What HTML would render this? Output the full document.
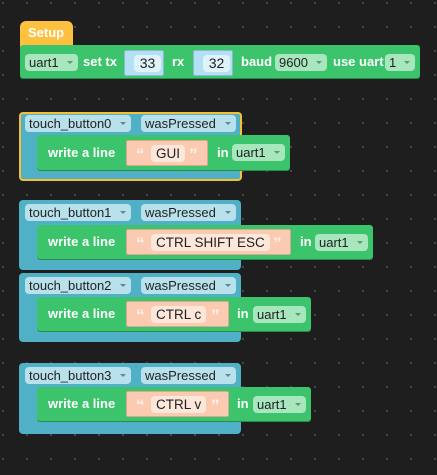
<!DOCTYPE html>
<html><head><meta charset="utf-8"><style>
*{margin:0;padding:0;box-sizing:border-box}
body{width:437px;height:475px;overflow:hidden;background-color:#1e1e1e;
background-image:radial-gradient(circle,#555 0.8px,transparent 1px);background-size:24px 24px;background-position:-9px -9px;
font-family:"Liberation Sans",Arial,sans-serif;position:relative}
.a{position:absolute}
.g{background:#3bc46b;border-radius:3px}
.b{background:#4fb0c6;border-radius:4px}
.lbl{position:absolute;color:#fff;font-weight:bold;font-size:13px;line-height:16px}
.dd{position:absolute;height:17px;border-radius:4px;font-size:13px;line-height:17px;color:#222;padding-left:4px;white-space:nowrap}
.dd::after{content:"";position:absolute;right:5px;top:7px;border-left:3px solid transparent;border-right:3px solid transparent;border-top:3px solid #5a8a9a}
.gd{background:#a8e6bd}
.gd::after{border-top-color:#5a9a6a}
.bd{background:#b9e1ec}
.val{position:absolute;background:#b3e0f5;border:1px solid #8cb9cc;height:26px;border-radius:2px}
.val span{position:absolute;top:4px;height:17px;width:27px;background:#dff3fb;border-radius:4px;font-size:14px;line-height:17px;text-align:center;color:#222}
.str{position:absolute;background:#fbcbb1;border:1px solid #d8a890;height:26px;border-radius:2px}
.str .q{position:absolute;top:5px;color:#fff3ec;font-weight:bold;font-size:17px;line-height:17px}
.str .f{position:absolute;left:24px;top:4px;height:17px;background:#fde6da;border-radius:4px;font-size:13.5px;line-height:17px;padding:0 5px;color:#222;white-space:nowrap}
.shadow{box-shadow:0 1px 0 #2a8c4c}
</style></head><body>
<div class="a" style="left:20px;top:21px;width:53px;height:28px;background:#fdc13f;border-radius:6px 6px 0 0"></div>
<div class="lbl" style="left:28px;top:25px">Setup</div>
<div class="a g shadow" style="left:20px;top:45px;width:400px;height:33px"></div>
<div class="dd gd" style="left:25px;top:54px;width:53px">uart1</div>
<div class="lbl" style="left:83px;top:54px">set tx</div>
<div class="val" style="left:124px;top:50px;width:40px"><span style="left:9px">33</span></div>
<div class="lbl" style="left:172px;top:54px">rx</div>
<div class="val" style="left:193px;top:50px;width:40px"><span style="left:9px">32</span></div>
<div class="lbl" style="left:241px;top:54px">baud</div>
<div class="dd gd" style="left:275px;top:54px;width:52px">9600</div>
<div class="lbl" style="left:333px;top:54px">use uart</div>
<div class="dd gd" style="left:385px;top:54px;width:30px">1</div>

<div class="a b" style="left:19px;top:112px;width:223px;height:69px;border:2px solid #f5c033"></div>
<div class="dd bd" style="left:25px;top:115px;width:106px">touch_button0</div>
<div class="dd bd" style="left:141px;top:115px;width:95px">wasPressed</div>
<div class="a g shadow" style="left:37px;top:135px;width:253px;height:35px"></div>
<div class="lbl" style="left:48px;top:145px">write a line</div>
<div class="str" style="left:126px;top:140px;width:82px"><b class="q" style="left:9px">“</b><span class="f">GUI</span><b class="q" style="left:62px">”</b></div>
<div class="lbl" style="left:217px;top:145px">in</div>
<div class="dd gd" style="left:232px;top:144px;width:53px">uart1</div>

<div class="a b" style="left:19px;top:200px;width:222px;height:70px"></div>
<div class="dd bd" style="left:25px;top:204px;width:106px">touch_button1</div>
<div class="dd bd" style="left:141px;top:204px;width:95px">wasPressed</div>
<div class="a g shadow" style="left:37px;top:225px;width:336px;height:34px"></div>
<div class="lbl" style="left:48px;top:234px">write a line</div>
<div class="str" style="left:126px;top:229px;width:165px"><b class="q" style="left:9px">“</b><span class="f">CTRL SHIFT ESC</span><b class="q" style="left:146px">”</b></div>
<div class="lbl" style="left:300px;top:234px">in</div>
<div class="dd gd" style="left:315px;top:234px;width:53px">uart1</div>

<div class="a b" style="left:19px;top:273px;width:222px;height:69px"></div>
<div class="dd bd" style="left:25px;top:277px;width:106px">touch_button2</div>
<div class="dd bd" style="left:141px;top:277px;width:95px">wasPressed</div>
<div class="a g shadow" style="left:37px;top:297px;width:274px;height:34px"></div>
<div class="lbl" style="left:48px;top:306px">write a line</div>
<div class="str" style="left:126px;top:301px;width:103px"><b class="q" style="left:9px">“</b><span class="f">CTRL c</span><b class="q" style="left:84px">”</b></div>
<div class="lbl" style="left:237px;top:306px">in</div>
<div class="dd gd" style="left:253px;top:306px;width:53px">uart1</div>

<div class="a b" style="left:19px;top:363px;width:222px;height:71px"></div>
<div class="dd bd" style="left:25px;top:367px;width:106px">touch_button3</div>
<div class="dd bd" style="left:141px;top:367px;width:95px">wasPressed</div>
<div class="a g shadow" style="left:37px;top:387px;width:274px;height:34px"></div>
<div class="lbl" style="left:48px;top:396px">write a line</div>
<div class="str" style="left:126px;top:391px;width:103px"><b class="q" style="left:9px">“</b><span class="f">CTRL v</span><b class="q" style="left:84px">”</b></div>
<div class="lbl" style="left:237px;top:396px">in</div>
<div class="dd gd" style="left:253px;top:396px;width:53px">uart1</div>
</body></html>
